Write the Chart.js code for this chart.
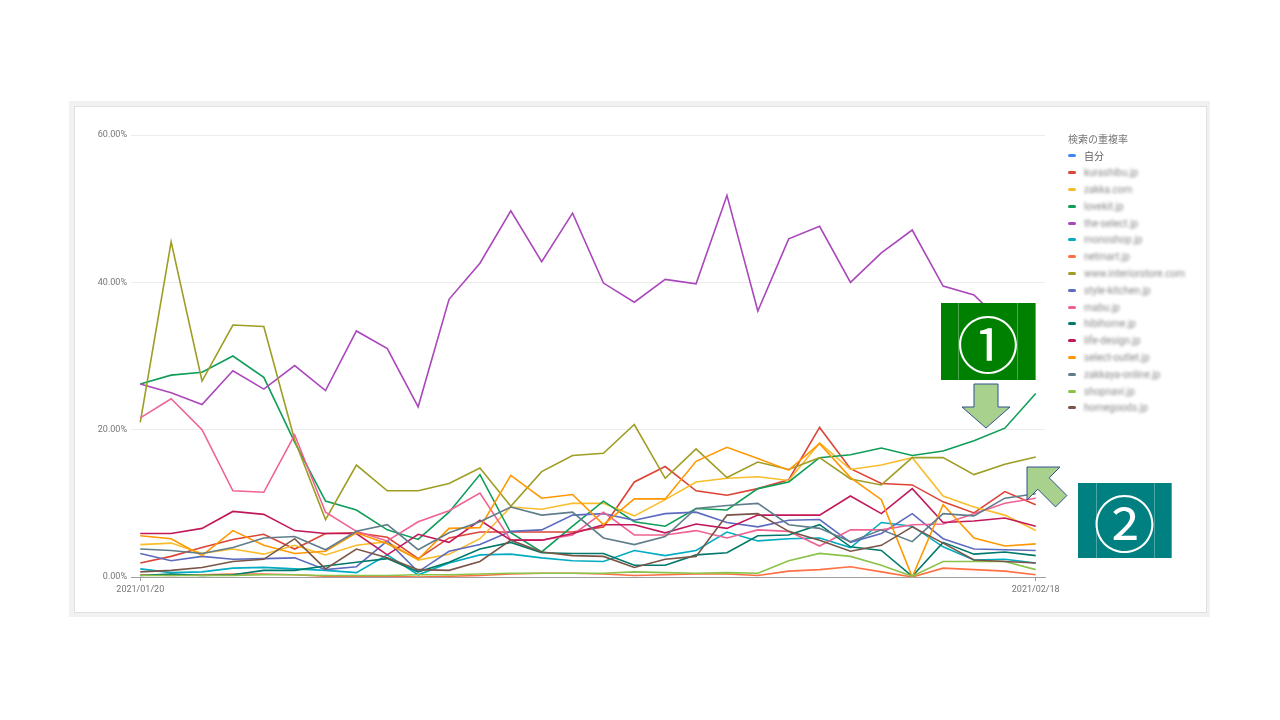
<!DOCTYPE html>
<html lang="ja">
<head>
<meta charset="utf-8">
<title>検索の重複率</title>
<script src="https://cdn.jsdelivr.net/npm/chart.js@4.4.1/dist/chart.umd.min.js"></script>
<style>
  body { margin: 0; width: 1280px; height: 720px; background: #fff; position: relative; overflow: hidden; font-family: Roboto, "Noto Sans CJK JP", sans-serif; }
  .frame { position: absolute; left: 69px; top: 101px; width: 1141px; height: 516px; background: #f1f1f1; }
  .panel { position: absolute; left: 74px; top: 106px; width: 1131px; height: 505px; background: #fff; border: 1px solid #e0e0e0; }
  .chartBox { position: absolute; left: 80px; top: 125px; width: 1000px; height: 474px; }
  .legendTitle { position: absolute; left: 1068px; top: 132px; font-size: 10px; line-height: 14px; color: #757575; font-family: "Noto Sans CJK JP", sans-serif; }
  .legend { position: absolute; left: 1068px; top: 147.6px; font-size: 10px; color: #616161; }
  .legendItem { height: 16.8px; display: flex; align-items: center; white-space: nowrap; }
  .swatch { width: 8px; height: 3px; border-radius: 1.5px; margin-right: 8px; }
  .blur { filter: blur(1.4px); color: #888; }
  .badge { position: absolute; color: #fff; display: flex; align-items: center; justify-content: center; font-family: "Noto Sans CJK JP", sans-serif; font-size: 62px; line-height: 1; box-sizing: border-box; border-right: 1px solid #70ad47; }
  .badge .rule { position: absolute; top: 0; bottom: 0; width: 1px; background: rgba(255,255,255,0.3); }
  .overlay { position: absolute; left: 0; top: 0; }
</style>
</head>
<body>
<div class="frame"></div>
<div class="panel"></div>
<div class="chartBox"><canvas id="chart"></canvas></div>
<div class="legendTitle">検索の重複率</div>
<div class="legend" id="legend"></div>

<svg class="overlay" width="1280" height="720">
  <polygon points="974,384 998,384 998,407 1010,407 986,428 962,407 974,407" fill="#a9d18e" stroke="#2f528f" stroke-width="1"/>
  <polygon points="1027,467 1060,467 1049.2,477.8 1066.9,495.5 1055.5,506.9 1037.8,489.2 1027,500" fill="#a9d18e" stroke="#2f528f" stroke-width="1"/>
</svg>
<div class="badge" style="left:941px; top:303px; width:95px; height:77px; background:#008000;">
  <div class="rule" style="left:17px"></div><div class="rule" style="left:76px"></div>①
</div>
<div class="badge" style="left:1078px; top:483px; width:94px; height:75px; background:#008080;">
  <div class="rule" style="left:18px"></div><div class="rule" style="left:76px"></div>②
</div>

<script>
const dates = [
  "2021/01/20", "2021/01/21", "2021/01/22", "2021/01/23", "2021/01/24", "2021/01/25",
  "2021/01/26", "2021/01/27", "2021/01/28", "2021/01/29", "2021/01/30", "2021/01/31",
  "2021/02/01", "2021/02/02", "2021/02/03", "2021/02/04", "2021/02/05", "2021/02/06",
  "2021/02/07", "2021/02/08", "2021/02/09", "2021/02/10", "2021/02/11", "2021/02/12",
  "2021/02/13", "2021/02/14", "2021/02/15", "2021/02/16", "2021/02/17", "2021/02/18"
];
const axisTicks = [0, 20, 40, 60];

const names = [
  "自分", "kurashibu.jp", "zakka.com", "lovekit.jp", "the-select.jp", "monoshop.jp",
  "netmart.jp", "www.interiorstore.com", "style-kitchen.jp", "mabu.jp", "hibihome.jp",
  "life-design.jp", "select-outlet.jp", "zakkaya-online.jp", "shopnavi.jp", "homegoods.jp"
];
const colors = [
  "#4285f4", "#db4437", "#f9bd2c", "#0f9d58", "#ab47bc", "#00acc1", "#ff7043", "#9e9d24",
  "#5c6bc0", "#f06292", "#00796b", "#c2185b", "#ff9800", "#607d8b", "#8bc34a", "#795548"
];

// overlap rate (%) per day, one list per site
const self = []; // no line drawn for 自分
const kurashibu = [1.9, 2.8, 4.0, 5.1, 5.8, 3.8, 5.9, 6.0, 5.4, 2.5, 5.3, 6.1, 6.1, 6.1, 6.1, 6.8, 12.9, 15.0, 11.7, 11.1, 12.0, 13.2, 20.3, 14.7, 12.7, 12.5, 10.2, 8.7, 11.6, 9.8];
const zakka = [4.4, 4.6, 3.2, 3.8, 3.1, 4.3, 3.0, 4.3, 4.8, 2.3, 3.1, 5.2, 9.5, 9.2, 10.0, 10.0, 8.3, 10.5, 12.9, 13.4, 13.6, 13.1, 18.2, 14.6, 15.2, 16.2, 11.0, 9.5, 8.4, 6.3];
const lovekit = [26.2, 27.4, 27.8, 30.0, 27.1, 18.3, 10.3, 9.1, 6.4, 5.1, 8.8, 13.9, 6.0, 3.4, 6.9, 10.3, 7.5, 6.9, 9.3, 9.1, 12.0, 12.9, 16.2, 16.6, 17.5, 16.5, 17.1, 18.5, 20.2, 24.9];
const theSelect = [26.2, 25.0, 23.4, 28.0, 25.5, 28.7, 25.3, 33.4, 31.0, 23.1, 37.7, 42.6, 49.7, 42.8, 49.4, 39.9, 37.3, 40.4, 39.8, 51.8, 36.1, 45.9, 47.6, 40.0, 44.0, 47.1, 39.5, 38.3, 34.2, 31.5];
const monoshop = [1.1, 0.6, 0.7, 1.2, 1.3, 1.1, 0.9, 0.6, 3.0, 0.3, 1.9, 3.0, 3.1, 2.6, 2.2, 2.1, 3.6, 2.9, 3.6, 6.1, 4.9, 5.2, 5.3, 4.0, 7.4, 6.9, 4.1, 2.3, 2.4, 1.9];
const netmart = [0.3, 0.2, 0.3, 0.4, 0.4, 0.3, 0.1, 0.1, 0.1, 0.0, 0.1, 0.2, 0.4, 0.5, 0.5, 0.4, 0.2, 0.3, 0.4, 0.4, 0.2, 0.8, 1.0, 1.4, 0.7, 0.0, 1.2, 1.0, 0.8, 0.3];
const interior = [21.0, 45.5, 26.6, 34.2, 34.0, 18.6, 7.8, 15.2, 11.7, 11.7, 12.7, 14.8, 9.6, 14.3, 16.5, 16.8, 20.7, 13.4, 17.4, 13.5, 15.6, 14.6, 16.2, 13.3, 12.5, 16.2, 16.2, 13.9, 15.3, 16.3];
const styleKitchen = [3.2, 2.2, 2.8, 2.4, 2.5, 2.6, 1.0, 1.4, 4.9, 0.7, 3.5, 4.4, 6.2, 6.4, 8.4, 8.6, 7.7, 8.6, 8.8, 7.4, 6.8, 7.7, 7.8, 4.7, 5.9, 8.6, 5.2, 3.8, 3.7, 3.6];
const mabu = [21.6, 24.2, 20.0, 11.7, 11.5, 19.3, 8.8, 6.2, 4.9, 7.5, 9.0, 11.4, 5.0, 5.0, 5.7, 8.8, 5.7, 5.7, 6.3, 5.3, 6.4, 6.2, 4.2, 6.4, 6.4, 7.1, 7.2, 8.6, 10.0, 10.7];
const hibihome = [0.2, 0.4, 0.2, 0.3, 0.9, 0.9, 1.5, 2.0, 2.5, 0.7, 2.0, 3.8, 4.7, 3.3, 3.2, 3.2, 1.6, 1.6, 3.0, 3.3, 5.6, 5.7, 7.1, 4.1, 3.6, 0.1, 4.7, 3.1, 3.4, 2.9];
const lifeDesign = [5.9, 5.9, 6.6, 8.9, 8.5, 6.3, 5.9, 5.9, 3.0, 5.8, 4.7, 7.7, 5.0, 5.0, 5.9, 7.1, 7.1, 6.0, 7.2, 6.6, 8.4, 8.4, 8.4, 11.0, 8.6, 12.0, 7.4, 7.6, 8.0, 6.9];
const selectOutlet = [5.6, 5.2, 2.9, 6.3, 4.3, 3.2, 3.5, 6.0, 4.5, 2.4, 6.6, 6.7, 13.8, 10.7, 11.2, 7.1, 10.6, 10.6, 15.7, 17.6, 16.1, 14.5, 18.1, 13.5, 10.5, 0.0, 9.8, 5.3, 4.2, 4.5];
const zakkaya = [3.8, 3.6, 3.2, 4.0, 5.3, 5.5, 3.7, 6.2, 7.1, 3.7, 6.0, 7.5, 9.5, 8.4, 8.8, 5.3, 4.4, 5.5, 9.3, 9.7, 10.0, 7.1, 6.6, 4.8, 6.4, 4.8, 8.6, 8.3, 10.7, 11.3];
const shopnavi = [0.2, 0.2, 0.2, 0.2, 0.3, 0.3, 0.2, 0.2, 0.2, 0.3, 0.3, 0.4, 0.5, 0.5, 0.5, 0.5, 0.7, 0.6, 0.5, 0.6, 0.5, 2.2, 3.2, 2.8, 1.6, 0.1, 2.1, 2.1, 2.1, 1.0];
const homegoods = [0.7, 0.9, 1.3, 2.1, 2.4, 5.2, 1.1, 3.8, 2.6, 1.0, 0.9, 2.1, 5.0, 3.4, 2.9, 2.8, 1.3, 2.4, 2.8, 8.4, 8.6, 6.2, 5.0, 3.5, 4.3, 6.8, 4.6, 2.3, 2.1, 1.9];

const series = [self, kurashibu, zakka, lovekit, theSelect, monoshop, netmart, interior,
  styleKitchen, mabu, hibihome, lifeDesign, selectOutlet, zakkaya, shopnavi, homegoods];

function renderLegend() {
  const box = document.getElementById("legend");
  names.forEach((name, i) => {
    const item = document.createElement("div");
    item.className = "legendItem";
    const label = i === 0 ? `<span>${name}</span>` : `<span class="blur">${name}</span>`;
    item.innerHTML = `<div class="swatch" style="background:${colors[i]}"></div>${label}`;
    box.appendChild(item);
  });
}

function setUpChart() {
  const datasets = series.map((values, i) => ({
    label: names[i],
    data: values,
    borderColor: colors[i],
    backgroundColor: colors[i],
    borderWidth: 1.6,
    pointRadius: 0,
    tension: 0,
    order: series.length - i
  }));

  new Chart(document.getElementById("chart"), {
    type: "line",
    data: { labels: dates.map((d, i) => i), datasets: datasets },
    options: {
      responsive: true,
      maintainAspectRatio: false,
      animation: false,
      layout: { padding: { top: 10, right: 35, bottom: 0, left: 0 } },
      plugins: { legend: { display: false }, tooltip: { enabled: false } },
      scales: {
        x: {
          type: "linear",
          min: -0.3,
          max: 29.3,
          afterBuildTicks: (scale) => { scale.ticks = [{ value: 0 }, { value: dates.length - 1 }]; },
          afterFit: (scale) => { scale.height = 22; },
          grid: { drawOnChartArea: false, drawTicks: true, tickLength: 4, color: "#9e9e9e" },
          border: { display: true, color: "#9e9e9e" },
          ticks: {
            autoSkip: false,
            maxRotation: 0,
            padding: 3,
            color: "#757575",
            font: { family: "Roboto", size: 9 },
            callback: (v) => dates[v]
          }
        },
        y: {
          min: 0,
          max: 60,
          afterBuildTicks: (scale) => { scale.ticks = axisTicks.map(v => ({ value: v })); },
          afterFit: (scale) => { scale.width = 51; },
          grid: { color: "#ececec", drawTicks: false },
          border: { display: false },
          ticks: {
            padding: 4,
            color: "#757575",
            font: { family: "Roboto", size: 9 },
            callback: (v) => v.toFixed(2) + "%"
          }
        }
      }
    }
  });
}

renderLegend();
setUpChart();
</script>
</body>
</html>
